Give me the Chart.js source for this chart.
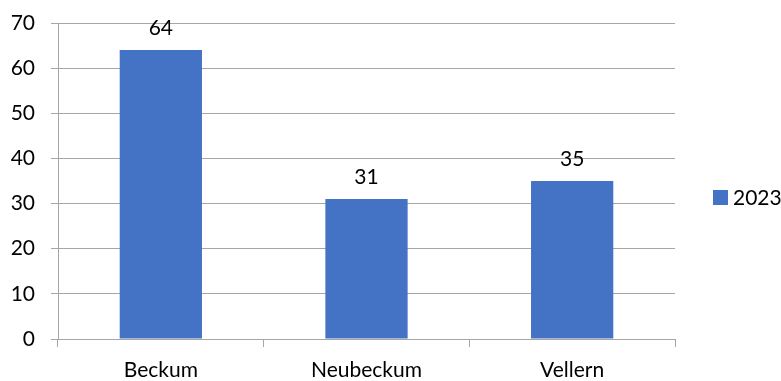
<!DOCTYPE html>
<html>
<head>
<meta charset="utf-8">
<script src="https://cdn.jsdelivr.net/npm/chart.js@4/dist/chart.umd.min.js"></script>
<style>
  html, body { margin: 0; padding: 0; background: #fff; }
  #wrap { width: 781px; height: 381px; }
</style>
</head>
<body>
<div id="wrap"><canvas id="chart"></canvas></div>
<script>
// Ortsteile und Werte
var orte = ['Beckum', 'Neubeckum', 'Vellern'];
var werte2023 = [64, 31, 35];
var serie = '2023';
var yTicks = [0, 10, 20, 30, 40, 50, 60, 70];

var blau = '#4472C4';
var grau = '#a6a6a6';
var schrift = 'Lato, "Liberation Sans", sans-serif';

// Zahlen über den Balken
var wertLabels = {
  id: 'wertLabels',
  afterDatasetsDraw: function(chart) {
    var c = chart.ctx;
    var meta = chart.getDatasetMeta(0);
    c.save();
    c.font = '21px ' + schrift;
    c.fillStyle = '#000';
    c.textAlign = 'center';
    c.textBaseline = 'middle';
    meta.data.forEach(function(bar, i) {
      c.fillText(String(chart.data.datasets[0].data[i]), bar.x, bar.y - 22);
    });
    c.restore();
  }
};

// Legende rechts neben der Zeichenfläche
var legendeRechts = {
  id: 'legendeRechts',
  afterDraw: function(chart) {
    var c = chart.ctx;
    var ds = chart.data.datasets[0];
    var x = 713, y = 197;
    c.save();
    c.fillStyle = ds.backgroundColor;
    c.fillRect(x, y - 7, 15, 15);
    c.font = '21px ' + schrift;
    c.fillStyle = '#000';
    c.textAlign = 'left';
    c.textBaseline = 'middle';
    c.fillText(ds.label, x + 20, y + 1);
    c.restore();
  }
};

new Chart(document.getElementById('chart'), {
  type: 'bar',
  data: {
    labels: orte,
    datasets: [{
      label: serie,
      data: werte2023,
      backgroundColor: blau,
      categoryPercentage: 1.0,
      barPercentage: 0.4
    }]
  },
  options: {
    responsive: true,
    maintainAspectRatio: false,
    animation: false,
    layout: { padding: { top: 23, right: 106, left: 0, bottom: 0 } },
    plugins: {
      legend: { display: false },
      tooltip: { enabled: false }
    },
    scales: {
      x: {
        grid: {
          offset: true,
          drawOnChartArea: false,
          color: grau,
          tickLength: 8
        },
        border: { color: grau },
        ticks: {
          color: '#000',
          font: { family: schrift, size: 21 },
          padding: 11
        },
        afterFit: function(s) {
          s.height = 42;
          s.paddingLeft = 0;
          s.paddingRight = 0;
        }
      },
      y: {
        min: 0,
        max: 70,
        afterBuildTicks: function(s) {
          s.ticks = yTicks.map(function(v) { return { value: v }; });
        },
        grid: { color: grau, tickLength: 7 },
        border: { color: grau },
        ticks: {
          color: '#000',
          font: { family: schrift, size: 21 },
          padding: 16
        },
        afterFit: function(s) {
          s.width = 58;
          s.paddingTop = 0;
          s.paddingBottom = 0;
        }
      }
    }
  },
  plugins: [wertLabels, legendeRechts]
});
</script>
</body>
</html>
